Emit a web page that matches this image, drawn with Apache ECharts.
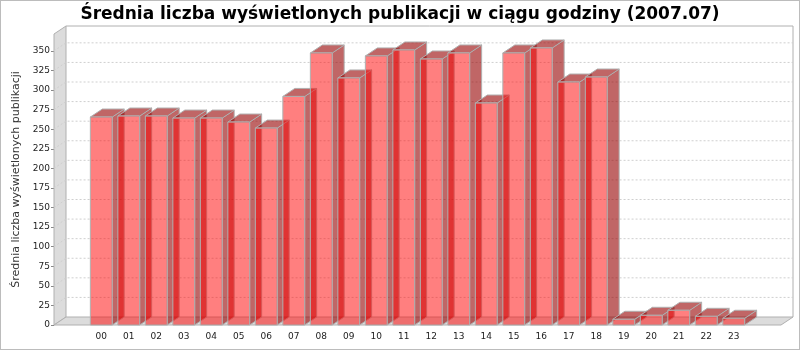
<!DOCTYPE html>
<html>
<head>
<meta charset="utf-8">
<script src="https://cdn.jsdelivr.net/npm/echarts@6/dist/echarts.min.js"></script>
<style>
  html, body { margin: 0; padding: 0; background: #fff; }
  #wrap { position: relative; width: 800px; height: 350px; }
  #chart { position: absolute; left: 0; top: 0; width: 800px; height: 350px; }
  #frame { position: absolute; left: 0; top: 0; width: 800px; height: 350px; box-sizing: border-box; border: 1px solid #bcbcbc; pointer-events: none; }
</style>
</head>
<body>
<div id="wrap"><div id="chart"></div><div id="frame"></div></div>
<script>
// ---- data ----
const hours = ['00','01','02','03','04','05','06','07','08','09','10','11',
               '12','13','14','15','16','17','18','19','20','21','22','23'];
const avgViews = [265.5, 266.8, 266.8, 264.2, 264.2, 259.1, 251.4, 291.8, 347.3, 315.4, 343.5, 351.1,
                  339.6, 347.3, 283.4, 347.3, 353.7, 310.2, 316.6, 7.3, 12.4, 18.8, 11.1, 8.6];
const yTicks = [0, 25, 50, 75, 100, 125, 150, 175, 200, 225, 250, 275, 300, 325, 350];
const titleText = 'Średnia liczba wyświetlonych publikacji w ciągu godziny (2007.07)';
const yName = 'Średnia liczba wyświetlonych publikacji';

// ---- layout (3D frame geometry) ----
const FRONT_LEFT = 54, FRONT_RIGHT = 781;
const DX = 12, DY = 8;
const L = FRONT_RIGHT - FRONT_LEFT;
const N = hours.length;
const catW = 0.8 * 0.9 * L / N;
const gapW = 0.2 * 0.9 * L / (N - 1);
const step = catW + gapW;
const gridLeft = FRONT_LEFT + 0.05 * L + catW / 2 - step / 2;
const gridRight = 800 - (gridLeft + N * step);
const BAR_RATIO = catW / step;
const Y_MAX = 371.5;

const FRONT = 'rgba(255,0,0,0.5)';
const SIDE = 'rgba(150,0,0,0.6)';
const OUTLINE = '#b0b0b0';
const WALL = '#dcdcdc';
const GRID_LINE = '#cfcfcf';

const chart = echarts.init(document.getElementById('chart'), null, { renderer: 'canvas' });

const barData = hours.map((h, i) => [i, avgViews[i]]);

chart.setOption({
  animation: false,
  backgroundColor: '#fff',
  title: {
    text: titleText,
    left: 'center',
    top: 1,
    textStyle: { fontFamily: 'DejaVu Sans', fontWeight: 'bold', fontSize: 17, color: '#000' }
  },
  grid: { left: gridLeft, right: gridRight, top: 34, bottom: 25 },
  xAxis: {
    type: 'category',
    data: hours,
    boundaryGap: true,
    axisLine: { show: false },
    axisTick: { show: false },
    axisLabel: { fontFamily: 'DejaVu Sans', fontSize: 9, color: '#222', margin: 7 },
    splitLine: { show: false }
  },
  yAxis: {
    type: 'value',
    min: 0, max: Y_MAX, interval: 25,
    offset: gridLeft - FRONT_LEFT,
    name: yName,
    nameLocation: 'middle',
    nameGap: 28,
    nameTextStyle: { fontFamily: 'DejaVu Sans', fontSize: 11, color: '#333' },
    axisLine: { show: false },
    axisTick: { show: true, length: 3, lineStyle: { color: '#888' } },
    axisLabel: { fontFamily: 'DejaVu Sans', fontSize: 9, color: '#222', margin: 4, showMaxLabel: false },
    splitLine: { show: false }
  },
  series: [
    {
      type: 'custom',
      name: 'frame',
      z: 1,
      silent: true,
      clip: false,
      data: [[0, 0]],
      encode: { x: 0, y: 1 },
      renderItem: function (params, api) {
        const yb = api.coord([0, 0])[1];
        const yt = api.coord([0, Y_MAX])[1];
        const children = [];
        children.push({ type: 'polyline', shape: { points: [[FRONT_LEFT + DX, yt - DY], [FRONT_RIGHT + DX, yt - DY], [FRONT_RIGHT + DX, yb - DY]] },
          style: { stroke: OUTLINE, lineWidth: 1, fill: null } });
        children.push({ type: 'polygon', shape: { points: [[FRONT_LEFT, yb], [FRONT_LEFT, yt], [FRONT_LEFT + DX, yt - DY], [FRONT_LEFT + DX, yb - DY]] },
          style: { fill: WALL, stroke: OUTLINE, lineWidth: 1 } });
        children.push({ type: 'polygon', shape: { points: [[FRONT_LEFT, yb], [FRONT_LEFT + DX, yb - DY], [FRONT_RIGHT + DX, yb - DY], [FRONT_RIGHT, yb]] },
          style: { fill: WALL, stroke: OUTLINE, lineWidth: 1 } });
        yTicks.forEach(function (v) {
          if (v === 0) return;
          const y = api.coord([0, v])[1];
          children.push({ type: 'polyline', shape: { points: [[FRONT_LEFT, y], [FRONT_LEFT + DX, y - DY], [FRONT_RIGHT + DX, y - DY]] },
            style: { stroke: GRID_LINE, lineWidth: 1, lineDash: [2, 2], fill: null } });
        });
        return { type: 'group', children: children };
      }
    },
    {
      type: 'custom',
      name: 'views',
      z: 2,
      clip: false,
      data: barData,
      encode: { x: 0, y: 1 },
      renderItem: function (params, api) {
        const i = api.value(0), v = api.value(1);
        const top = api.coord([i, v]);
        const bot = api.coord([i, 0]);
        const bw = api.size([1, 0])[0] * BAR_RATIO;
        const x0 = top[0] - bw / 2, x1 = top[0] + bw / 2;
        const yt = top[1], yb = bot[1];
        return {
          type: 'group',
          children: [
            { type: 'polygon', shape: { points: [[x1, yt], [x1 + DX, yt - DY], [x1 + DX, yb - DY], [x1, yb]] },
              style: { fill: SIDE, stroke: OUTLINE, lineWidth: 1 } },
            { type: 'polygon', shape: { points: [[x0, yt], [x0 + DX, yt - DY], [x1 + DX, yt - DY], [x1, yt]] },
              style: { fill: SIDE, stroke: OUTLINE, lineWidth: 1 } },
            { type: 'rect', shape: { x: x0, y: yt, width: bw, height: yb - yt },
              style: { fill: FRONT, stroke: OUTLINE, lineWidth: 1 } }
          ]
        };
      }
    }
  ]
});
</script>
</body>
</html>
